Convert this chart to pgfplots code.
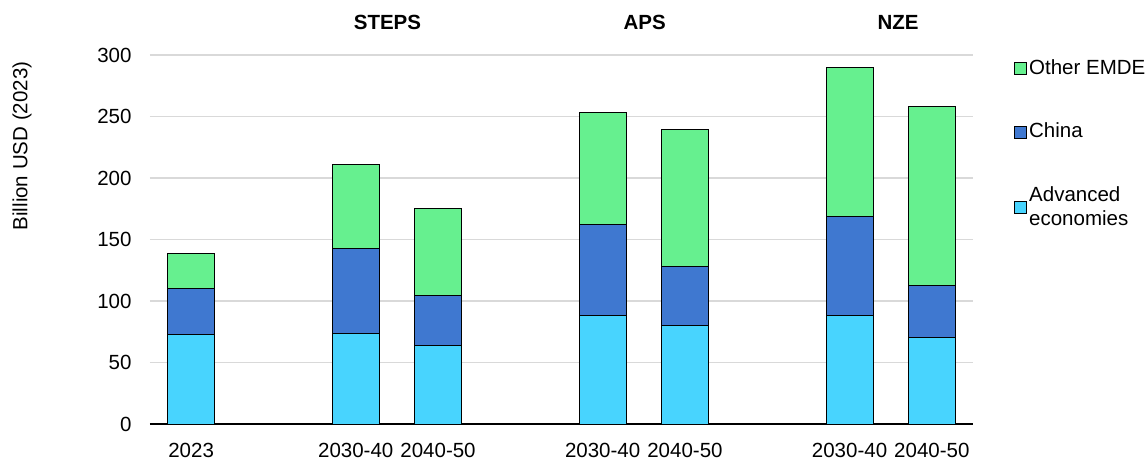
\documentclass[border=0pt]{standalone}
\usepackage{fontspec}
\setmainfont{Liberation Sans}
\usepackage{pgfplots}
\pgfplotsset{compat=1.18}
\definecolor{adv}{HTML}{48D4FE}
\definecolor{chn}{HTML}{3F78D0}
\definecolor{oth}{HTML}{66F08F}
\definecolor{grd}{HTML}{D9D9D9}
\begin{document}
\fontsize{20.5bp}{24bp}\selectfont
\begin{tikzpicture}
\path[use as bounding box] (-150bp,-37bp) rectangle (997bp,424bp);
\begin{axis}[
 at={(0,0)}, anchor=south west,
 scale only axis, width=823bp, height=369bp,
 ybar stacked, bar width=47bp,
 xmin=-0.5, xmax=9.5, ymin=0, ymax=300,
 xtick={0,2,3,5,6,8,9},
 xticklabels={2023,2030-40,2040-50,2030-40,2040-50,2030-40,2040-50},
 ytick={0,50,100,150,200,250,300},
 ymajorgrids, grid style={grd, line width=1.2bp},
 axis x line*=bottom, axis y line*=left,
 x axis line style={black, line width=1.5bp, -},
 y axis line style={draw=none},
 major tick length=0pt,
 /pgf/number format/assume math mode=true,
 xticklabel style={yshift=-12bp},
 yticklabel style={xshift=-11.5bp},
 clip=false,
 ylabel={Billion USD (2023)},
 ylabel style={at={(axis description cs:-0.1555,0.7534)}, anchor=center},
 every axis plot/.append style={draw=black, line width=1bp},
 legend style={draw=none, fill=none, at={(axis description cs:1,1)}, anchor=north west,
   xshift=38bp, yshift=0bp, row sep=42bp, cells={anchor=west, align=left}},
 reverse legend,
 legend image code/.code={\draw[#1] (0bp,-6bp) rectangle (12bp,6bp);},
]
\addplot[fill=adv] coordinates {(0,72.5) (2,73.4) (3,63.6) (5,88.5) (6,80.4) (8,88.0) (9,70.1)};
\addlegendentry{Advanced\\economies}
\addplot[fill=chn] coordinates {(0,37.4) (2,69.6) (3,40.6) (5,74.0) (6,47.9) (8,81.0) (9,42.8)};
\addlegendentry{China}
\addplot[fill=oth] coordinates {(0,28.7) (2,67.9) (3,71.3) (5,90.4) (6,111.0) (8,120.7) (9,145.1)};
\addlegendentry{Other EMDE}
\node[font=\bfseries, yshift=33bp] at (axis cs:2.385,300) {STEPS};
\node[font=\bfseries, yshift=33bp] at (axis cs:5.51,300) {APS};
\node[font=\bfseries, yshift=33bp] at (axis cs:8.59,300) {NZE};
\end{axis}
\end{tikzpicture}
\end{document}
